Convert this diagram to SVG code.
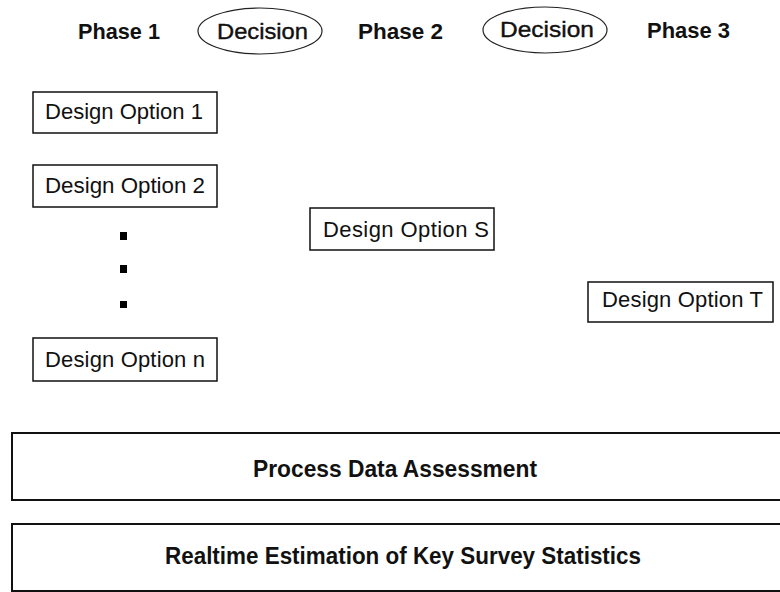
<svg xmlns="http://www.w3.org/2000/svg" width="780" height="592" viewBox="0 0 780 592">
  <style>
    .phase { font-family: "Liberation Sans", Arial, sans-serif; font-size: 21.5px; font-weight: bold; fill: #111; }
    .decision { font-family: "Liberation Sans", Arial, sans-serif; font-size: 22.5px; fill: #111; stroke: #111; stroke-width: 0.4px; }
    .opt { font-family: "Liberation Sans", Arial, sans-serif; font-size: 22px; fill: #111; }
    .band { font-family: "Liberation Sans", Arial, sans-serif; font-size: 23.5px; font-weight: bold; fill: #111; }
    .box { fill: #fff; stroke: #111; stroke-width: 1.5; }
    .bandbox { fill: #fff; stroke: #111; stroke-width: 2; }
    .oval { fill: none; stroke: #222; stroke-width: 1.2; }
    .dot { fill: #000; }
  </style>
  <rect width="780" height="592" fill="#fff"/>

  <!-- Phase header row -->
  <g id="phase1"><text class="phase" x="78" y="39" textLength="82" lengthAdjust="spacingAndGlyphs">Phase 1</text></g>
  <g id="decision1">
    <ellipse class="oval" cx="260" cy="31" rx="62" ry="23"/>
    <text class="decision" x="217" y="39" textLength="91" lengthAdjust="spacingAndGlyphs">Decision</text>
  </g>
  <g id="phase2"><text class="phase" x="358" y="39" textLength="85" lengthAdjust="spacingAndGlyphs">Phase 2</text></g>
  <g id="decision2">
    <ellipse class="oval" cx="545" cy="30" rx="62" ry="23"/>
    <text class="decision" x="500" y="37" textLength="94" lengthAdjust="spacingAndGlyphs">Decision</text>
  </g>
  <g id="phase3"><text class="phase" x="647" y="38" textLength="83" lengthAdjust="spacingAndGlyphs">Phase 3</text></g>

  <!-- Phase 1 design options -->
  <g id="option1">
    <rect class="box" x="33" y="92" width="184" height="41"/>
    <text class="opt" x="45" y="119" textLength="158" lengthAdjust="spacingAndGlyphs">Design Option 1</text>
  </g>
  <g id="option2">
    <rect class="box" x="33" y="165" width="184" height="42"/>
    <text class="opt" x="45" y="193" textLength="160" lengthAdjust="spacingAndGlyphs">Design Option 2</text>
  </g>
  <g id="ellipsis">
    <rect class="dot" x="120" y="232" width="7" height="8"/>
    <rect class="dot" x="120" y="265" width="7" height="8"/>
    <rect class="dot" x="120" y="301" width="7" height="7"/>
  </g>
  <g id="optionN">
    <rect class="box" x="33" y="338" width="184" height="43"/>
    <text class="opt" x="45" y="367" textLength="160" lengthAdjust="spacing">Design Option n</text>
  </g>

  <!-- Phase 2 design option -->
  <g id="optionS">
    <rect class="box" x="310" y="208" width="184" height="42"/>
    <text class="opt" x="323" y="237" textLength="166" lengthAdjust="spacing">Design Option S</text>
  </g>

  <!-- Phase 3 design option -->
  <g id="optionT">
    <rect class="box" x="588" y="282" width="185" height="40"/>
    <text class="opt" x="602" y="307" textLength="161" lengthAdjust="spacing">Design Option T</text>
  </g>

  <!-- Cross-phase bands -->
  <g id="assessment">
    <rect class="bandbox" x="12" y="433" width="790" height="67"/>
    <text class="band" x="253" y="477" textLength="284" lengthAdjust="spacingAndGlyphs">Process Data Assessment</text>
  </g>
  <g id="estimation">
    <rect class="bandbox" x="12" y="524" width="790" height="67"/>
    <text class="band" x="165" y="564" textLength="476" lengthAdjust="spacingAndGlyphs">Realtime Estimation of Key Survey Statistics</text>
  </g>

  <g id="connectors"></g>
</svg>
